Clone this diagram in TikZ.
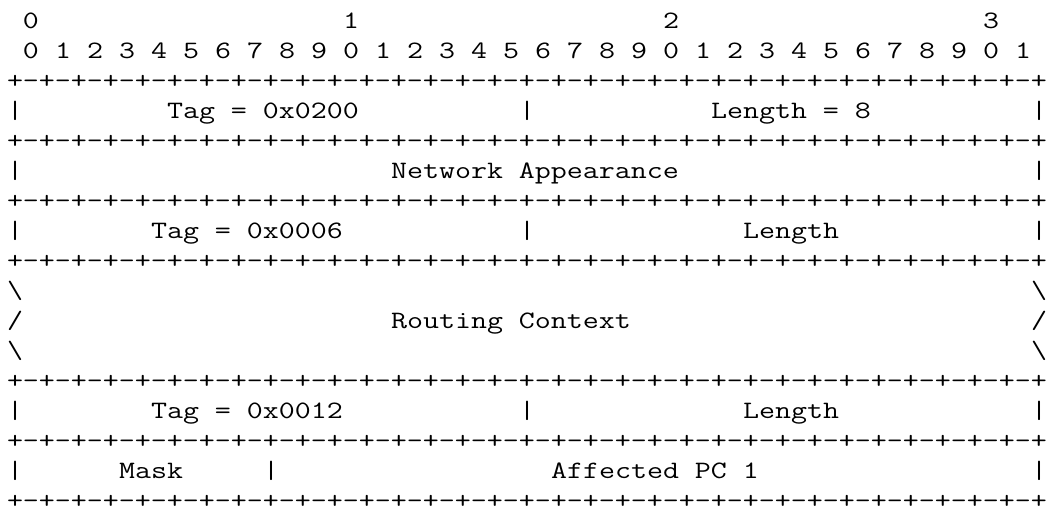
\documentclass[tikz,border=0pt]{standalone}
\usepackage{fontspec}
\usepackage{graphicx}

% one border line of the packet: 65 characters
\newcommand{\rfcpair}{-+}
\newcommand{\rfcoct}{\rfcpair\rfcpair\rfcpair\rfcpair\rfcpair\rfcpair\rfcpair\rfcpair}
\newcommand{\rfcrule}{+\rfcoct\rfcoct\rfcoct\rfcoct}
\newcommand{\rfcfont}{\ttfamily\fontsize{25}{30}\selectfont}
\newlength{\rfcw}
% widen the mono face to one character = 16pt
\AtBeginDocument{%
  \settowidth{\rfcw}{\rfcfont 0}%
  \pgfmathsetmacro{\rfcscale}{16/\rfcw}}
\newcommand{\wide}[1]{\scalebox{\rfcscale}[1]{#1}}

\tikzset{
  rfc/.style={anchor=base west, inner sep=0pt, outer sep=0pt, font=\rfcfont},
}

\begin{document}
\begin{tikzpicture}[x=16pt, y=30pt]
\useasboundingbox (-7pt,28.5pt) rectangle (1043pt,-477.5pt);

% Octet numbers
\node[rfc] (oct0) at (1,0) {\wide{0}};
\node[rfc] (oct1) at (21,0) {\wide{1}};
\node[rfc] (oct2) at (41,0) {\wide{2}};
\node[rfc] (oct3) at (61,0) {\wide{3}};

% Bit numbers
\foreach \i in {0,...,31}{
  \pgfmathtruncatemacro{\d}{mod(\i,10)}
  \node[rfc] (bit\i) at ({2*\i+1},-1) {\wide{\d}};
}

% Border lines
\foreach \r in {2,4,6,8,12,14,16}
  \node[rfc] (rule\r) at (0,-\r) {\wide{\rfcrule}};

% Tag / Length (Network Appearance)
\node[rfc] (bar3a) at (0,-3) {\wide{|}};
\node[rfc] (tagna) at (10,-3) {\wide{Tag = 0x0200}};
\node[rfc] (bar3b) at (32,-3) {\wide{|}};
\node[rfc] (lenna) at (44,-3) {\wide{Length = 8}};
\node[rfc] (bar3c) at (64,-3) {\wide{|}};

% Network Appearance
\node[rfc] (bar5a) at (0,-5) {\wide{|}};
\node[rfc] (netapp) at (24,-5) {\wide{Network Appearance}};
\node[rfc] (bar5b) at (64,-5) {\wide{|}};

% Tag / Length (Routing Context)
\node[rfc] (bar7a) at (0,-7) {\wide{|}};
\node[rfc] (tagrc) at (9,-7) {\wide{Tag = 0x0006}};
\node[rfc] (bar7b) at (32,-7) {\wide{|}};
\node[rfc] (lenrc) at (46,-7) {\wide{Length}};
\node[rfc] (bar7c) at (64,-7) {\wide{|}};

% Routing Context (variable length)
\node[rfc] (cut9a) at (0,-9) {\wide{\textbackslash}};
\node[rfc] (cut9b) at (64,-9) {\wide{\textbackslash}};
\node[rfc] (cut10a) at (0,-10) {\wide{/}};
\node[rfc] (routctx) at (24,-10) {\wide{Routing Context}};
\node[rfc] (cut10b) at (64,-10) {\wide{/}};
\node[rfc] (cut11a) at (0,-11) {\wide{\textbackslash}};
\node[rfc] (cut11b) at (64,-11) {\wide{\textbackslash}};

% Tag / Length (Affected Point Code)
\node[rfc] (bar13a) at (0,-13) {\wide{|}};
\node[rfc] (tagpc) at (9,-13) {\wide{Tag = 0x0012}};
\node[rfc] (bar13b) at (32,-13) {\wide{|}};
\node[rfc] (lenpc) at (46,-13) {\wide{Length}};
\node[rfc] (bar13c) at (64,-13) {\wide{|}};

% Mask / Affected PC
\node[rfc] (bar15a) at (0,-15) {\wide{|}};
\node[rfc] (mask) at (7,-15) {\wide{Mask}};
\node[rfc] (bar15b) at (16,-15) {\wide{|}};
\node[rfc] (affpc) at (34,-15) {\wide{Affected PC 1}};
\node[rfc] (bar15c) at (64,-15) {\wide{|}};

\end{tikzpicture}
\end{document}
